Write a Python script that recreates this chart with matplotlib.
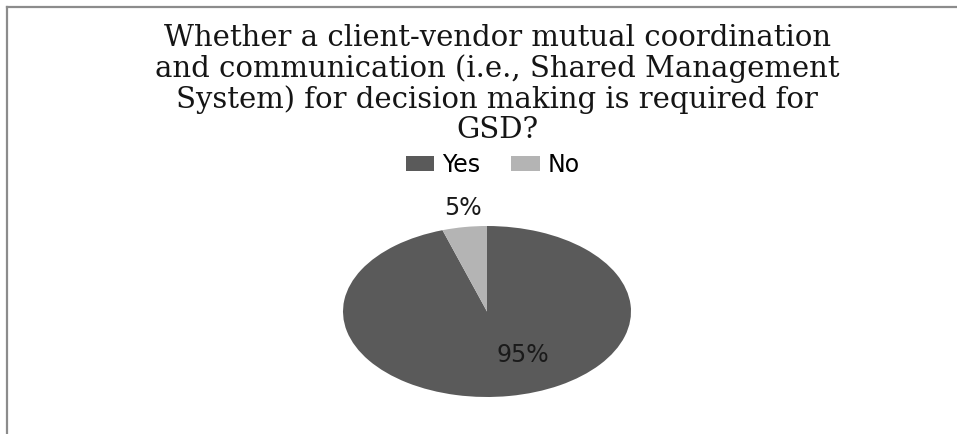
import matplotlib.pyplot as plt
from matplotlib.lines import Line2D
from matplotlib.patches import Patch

title = ("Whether a client-vendor mutual coordination\n"
         "and communication (i.e., Shared Management\n"
         "System) for decision making is required for\n"
         "GSD?")
labels = ["Yes", "No"]
shares = [95, 5]
colors = ["#5a5a5a", "#b4b4b4"]

W, H = 957, 434
fig = plt.figure(figsize=(W / 100, H / 100), dpi=100)

# chart frame (only top and left edges visible)
fig.add_artist(Line2D([7 / W, 1], [1 - 7 / H, 1 - 7 / H], color="#8c8c8c", lw=1.6))
fig.add_artist(Line2D([7 / W, 7 / W], [0, 1 - 7 / H], color="#8c8c8c", lw=1.6))

fig.text(497 / W, 1 - 84 / H, title, ha="center", va="center",
         family="DejaVu Serif", fontsize=21, linespacing=1.1, color="#151515")

# pie is drawn stretched (ellipse), like the original
cx, cy, rx, ry = 487, 311.5, 144, 85.5
ax = fig.add_axes([(cx - rx) / W, (H - cy - ry) / H, 2 * rx / W, 2 * ry / H])
wedges, texts, autotexts = ax.pie(
    shares, colors=colors, startangle=90, counterclock=False,
    autopct="%d%%", pctdistance=0.57, labels=None,
    textprops=dict(fontsize=17, color="#1a1a1a", family="DejaVu Sans"))
ax.set_aspect("auto")
ax.set_xlim(-1, 1)
ax.set_ylim(-1, 1)

# Excel-style label placement
autotexts[0].set_position((0.25, -0.51))
autotexts[1].set_position((-0.17, 1.21))

handles = [Patch(facecolor=c, edgecolor="none") for c in colors]
fig.legend(handles, labels, loc="center", bbox_to_anchor=(493 / W, 1 - 165 / H),
           ncol=2, frameon=False, handlelength=1.2, handleheight=0.6,
           handletextpad=0.35, columnspacing=1.3,
           prop=dict(family="DejaVu Sans", size=17))

fig.savefig("out.png", dpi=100, facecolor="white")
